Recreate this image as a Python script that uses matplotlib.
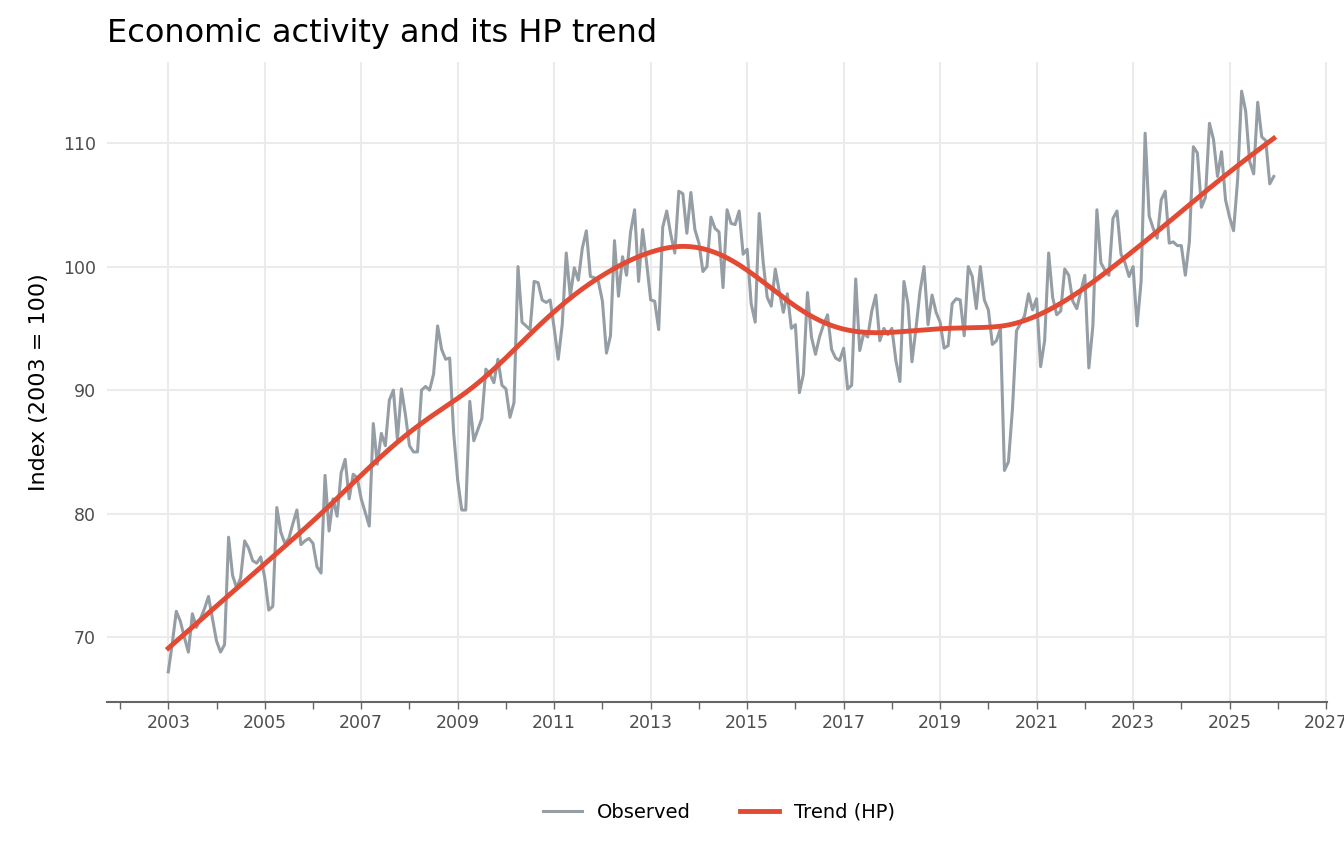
import numpy as np
import matplotlib
matplotlib.use("Agg")
import matplotlib.pyplot as plt
from matplotlib.lines import Line2D

start_year = 2003
observed = [
 67.2, 69.5, 72.1, 71.3, 70.0, 68.8, 71.9, 70.8, 71.5, 72.3, 73.3, 71.5,
 69.7, 68.8, 69.4, 78.1, 75.0, 74.0, 74.8, 77.8, 77.2, 76.2, 76.0, 76.5,
 74.8, 72.2, 72.5, 80.5, 78.5, 77.6, 78.0, 79.2, 80.3, 77.5, 77.8, 78.0,
 77.6, 75.7, 75.2, 83.1, 78.6, 81.2, 79.8, 83.3, 84.4, 81.2, 83.2, 82.9,
 81.2, 80.1, 79.0, 87.3, 84.0, 86.5, 85.5, 89.2, 90.0, 86.0, 90.1, 88.0,
 85.5, 85.0, 85.0, 90.0, 90.3, 90.0, 91.3, 95.2, 93.3, 92.5, 92.6, 86.5,
 82.7, 80.3, 80.3, 89.1, 85.9, 86.8, 87.7, 91.7, 91.3, 90.6, 92.5, 90.4,
 90.1, 87.8, 89.0, 100.0, 95.5, 95.2, 94.9, 98.8, 98.7, 97.3, 97.1, 97.3,
 95.0, 92.5, 95.3, 101.1, 97.6, 99.9, 98.9, 101.5, 102.9, 99.2, 99.1, 98.8,
 97.2, 93.0, 94.4, 102.1, 97.6, 100.8, 99.3, 102.8, 104.6, 98.8, 103.0, 100.3,
 97.3, 97.2, 94.9, 103.2, 104.5, 102.6, 101.1, 106.1, 105.9, 102.7, 106.0, 103.0,
 101.9, 99.6, 100.0, 104.0, 103.1, 102.8, 98.3, 104.6, 103.5, 103.4, 104.5, 101.0,
 101.4, 97.0, 95.5, 104.3, 100.3, 97.5, 96.8, 99.8, 98.0, 96.3, 97.8, 95.0,
 95.3, 89.8, 91.3, 97.9, 94.3, 92.9, 94.3, 95.3, 96.1, 93.3, 92.6, 92.4,
 93.4, 90.1, 90.4, 99.0, 93.2, 94.6, 94.3, 96.4, 97.7, 94.0, 95.0, 94.5,
 95.0, 92.4, 90.7, 98.8, 97.0, 92.3, 95.0, 98.0, 100.0, 95.3, 97.7, 96.3,
 95.5, 93.4, 93.6, 97.0, 97.4, 97.3, 94.4, 100.0, 99.2, 96.6, 100.0, 97.3,
 96.5, 93.7, 94.0, 95.0, 83.5, 84.2, 88.5, 94.8, 95.4, 96.0, 97.8, 96.5,
 97.4, 91.9, 94.0, 101.1, 97.5, 96.1, 96.4, 99.8, 99.3, 97.2, 96.6, 98.0,
 99.3, 91.8, 95.2, 104.6, 100.3, 99.7, 99.3, 103.9, 104.5, 101.0, 100.3, 99.2,
 100.0, 95.2, 98.8, 110.8, 104.1, 103.1, 102.3, 105.4, 106.1, 101.9, 102.0, 101.7,
 101.7, 99.3, 102.0, 109.7, 109.2, 104.8, 105.6, 111.6, 110.3, 107.3, 109.3, 105.4,
 104.0, 102.9, 107.0, 114.2, 112.6, 108.5, 107.5, 113.3, 110.5, 110.2, 106.7, 107.3,
]
hp_lambda = 14400

y = np.array(observed)
n = len(y)
t = start_year + np.arange(n) / 12.0
D = np.zeros((n - 2, n))
for i in range(n - 2):
    D[i, i:i + 3] = [1, -2, 1]
trend = np.linalg.solve(np.eye(n) + hp_lambda * D.T @ D, y)

plt.rcParams['font.family'] = ['DejaVu Sans']
fig = plt.figure(figsize=(13.44, 8.64), dpi=100)
ax = fig.add_axes([107 / 1344, 1 - 702 / 864, (1327 - 107) / 1344, (702 - 62) / 864])
grey = '#959da5'
red = '#e34a33'
ax.plot(t, y, color=grey, lw=2.2)
ax.plot(t, trend, color=red, lw=3.5)
ax.set_xlim(2001.73, 2027.02)
ax.set_ylim(64.76, 116.56)
ax.set_xticks(range(2003, 2028, 2))
ax.set_xticks(range(2002, 2028, 2), minor=True)
ax.set_yticks([70, 80, 90, 100, 110])
ax.grid(True, which='major', color='#ebebeb', lw=1.5)
ax.set_axisbelow(True)
for s in ['top', 'right', 'left']:
    ax.spines[s].set_visible(False)
ax.spines['bottom'].set_color('#666666')
ax.spines['bottom'].set_linewidth(1.5)
ax.tick_params(axis='x', which='both', colors='#666666', labelcolor='#4d4d4d', labelsize=12.5, length=5, width=1)
ax.tick_params(axis='y', length=0, labelcolor='#4d4d4d', labelsize=12.5, pad=8)
ax.set_ylabel('Index (2003 = 100)', fontsize=16, labelpad=10)
fig.text(107 / 1344, 1 - 42 / 864, 'Economic activity and its HP trend', fontsize=23)
handles = [Line2D([], [], color=grey, lw=2.2), Line2D([], [], color=red, lw=3.5)]
fig.legend(handles, ['Observed', 'Trend (HP)'], loc='center', bbox_to_anchor=(0.535, 0.06),
           ncol=2, frameon=False, fontsize=14, handlelength=2, columnspacing=2.5)
fig.savefig('out.png', dpi=100)
